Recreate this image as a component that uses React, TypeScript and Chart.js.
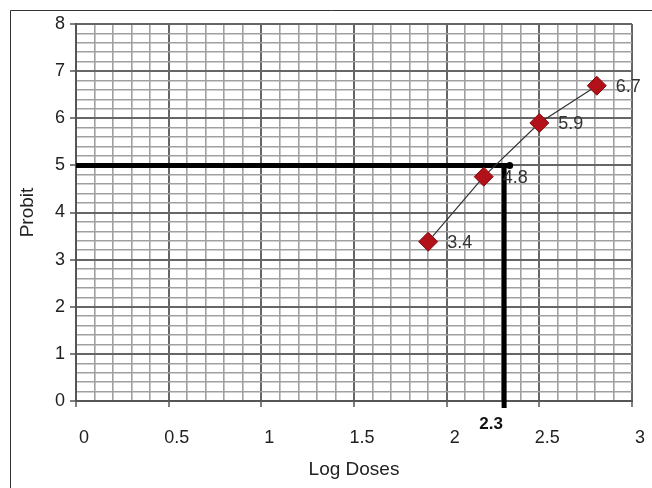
import React, { useEffect, useRef } from "react";
import { Chart, registerables } from "chart.js";

Chart.register(...registerables);

// ---- data ----
const logDoses = [1.9, 2.2, 2.5, 2.81];
const probits = [3.38, 4.76, 5.9, 6.69];
const pointLabels = ["3.4", "4.8", "5.9", "6.7"];
const xTickLabels = ["0", "0.5", "1", "1.5", "2", "2.5", "3"];
const yTickLabels = ["0", "1", "2", "3", "4", "5", "6", "7", "8"];
const ld50Probit = 5;
const ld50LogDose = 2.31;
const ld50Label = "2.3";
const hLineEnd = 2.34;
const vLineBottom = -0.15;

const FONT = '"Liberation Sans", Arial, sans-serif';

const isMult = (v: number, step: number) => {
  const r = v / step;
  return Math.abs(r - Math.round(r)) < 1e-6;
};

const annotatePlugin = {
  id: "annotate",
  beforeDraw(chart: any) {
    const ctx = chart.ctx;
    ctx.save();
    ctx.strokeStyle = "#333";
    ctx.lineWidth = 1;
    ctx.beginPath();
    ctx.moveTo(10.5, chart.height);
    ctx.lineTo(10.5, 10.5);
    ctx.lineTo(chart.width, 10.5);
    ctx.stroke();
    ctx.restore();
  },
  afterDatasetsDraw(chart: any) {
    const ctx = chart.ctx;
    const xs = chart.scales.x;
    const ys = chart.scales.y;
    ctx.save();
    ctx.fillStyle = "#333";
    ctx.font = `18px ${FONT}`;
    ctx.textAlign = "left";
    ctx.textBaseline = "middle";
    logDoses.forEach((x, i) => {
      ctx.fillText(pointLabels[i], xs.getPixelForValue(x) + 19, ys.getPixelForValue(probits[i]) + 1);
    });
    ctx.fillStyle = "#111";
    ctx.font = `bold 17px ${FONT}`;
    ctx.textAlign = "center";
    ctx.fillText(ld50Label, xs.getPixelForValue(ld50LogDose) - 13, ys.getPixelForValue(0) + 23);
    ctx.restore();
  },
};

export default function App() {
  const ref = useRef<HTMLCanvasElement>(null);

  useEffect(() => {
    if (!ref.current) return;
    const chart = new Chart(ref.current, {
      type: "scatter",
      data: {
        datasets: [
          {
            data: logDoses.map((x, i) => ({ x, y: probits[i] })),
            showLine: true,
            borderColor: "#333",
            borderWidth: 1.2,
            pointStyle: "rectRot",
            pointRadius: 9.5,
            pointBackgroundColor: "#b3111a",
            pointBorderColor: "#850b10",
            pointBorderWidth: 1,
          } as any,
          {
            data: [
              { x: 0, y: ld50Probit },
              { x: hLineEnd, y: ld50Probit },
            ],
            showLine: true,
            borderColor: "#000",
            borderWidth: 5,
            pointRadius: [0, 3.5],
            pointBackgroundColor: "#000",
            pointBorderWidth: 0,
            clip: false,
          } as any,
          {
            data: [
              { x: ld50LogDose, y: ld50Probit },
              { x: ld50LogDose, y: vLineBottom },
            ],
            showLine: true,
            borderColor: "#000",
            borderWidth: 5,
            pointRadius: 0,
            clip: false,
          } as any,
        ],
      },
      options: {
        responsive: false,
        animation: false,
        events: [],
        layout: { padding: { left: 0, top: 24, right: 20, bottom: 0 } },
        plugins: { legend: { display: false }, tooltip: { enabled: false } },
        scales: {
          x: {
            type: "linear",
            min: 0,
            max: 3,
            afterFit: (s: any) => {
              s.height = 87;
              s.paddingLeft = 0;
              s.paddingRight = 0;
            },
            ticks: {
              stepSize: 0.1,
              maxTicksLimit: 100,
              autoSkip: false,
              maxRotation: 0,
              padding: 20,
              labelOffset: 8,
              color: "#222",
              font: { family: FONT, size: 18 },
              callback: (v: any) => (isMult(Number(v), 0.5) ? xTickLabels[Math.round(Number(v) * 2)] : ""),
            },
            grid: {
              color: (c: any) => (isMult(c.tick?.value ?? 0, 0.5) ? "#666" : "#a0a0a0"),
              lineWidth: (c: any) => (isMult(c.tick?.value ?? 0, 0.5) ? 2 : 1.6),
              tickLength: 6,
              tickColor: (c: any) => (isMult(c.tick?.value ?? 0, 0.5) ? "#555" : "rgba(0,0,0,0)"),
              tickWidth: 1.5,
            },
            border: { display: true, color: "#555", width: 2 },
            title: {
              display: true,
              text: "Log Doses",
              color: "#222",
              font: { family: FONT, size: 19 },
              padding: { top: 0, bottom: 7 },
            },
          },
          y: {
            type: "linear",
            min: 0,
            max: 8,
            afterFit: (s: any) => {
              s.width = 76;
              s.paddingTop = 0;
              s.paddingBottom = 0;
            },
            ticks: {
              stepSize: 0.2,
              maxTicksLimit: 100,
              autoSkip: false,
              padding: 5,
              color: "#222",
              font: { family: FONT, size: 18 },
              callback: (v: any) => (isMult(Number(v), 1) ? yTickLabels[Math.round(Number(v))] : ""),
            },
            grid: {
              color: (c: any) => (isMult(c.tick?.value ?? 0, 1) ? "#666" : "#a0a0a0"),
              lineWidth: (c: any) => (isMult(c.tick?.value ?? 0, 1) ? 2 : 1.6),
              tickLength: 6,
              tickColor: (c: any) => (isMult(c.tick?.value ?? 0, 1) ? "#555" : "rgba(0,0,0,0)"),
              tickWidth: 1.5,
            },
            border: { display: true, color: "#555", width: 2 },
            title: {
              display: true,
              text: "Probit",
              color: "#222",
              font: { family: FONT, size: 19 },
              padding: { top: 16, bottom: 0 },
            },
          },
        },
      },
      plugins: [annotatePlugin],
    });
    return () => chart.destroy();
  }, []);

  return (
    <div style={{ position: "absolute", left: 0, top: 0, width: 652, height: 488, background: "#fff" }}>
      <canvas ref={ref} width={652} height={488} style={{ display: "block" }} />
    </div>
  );
}
